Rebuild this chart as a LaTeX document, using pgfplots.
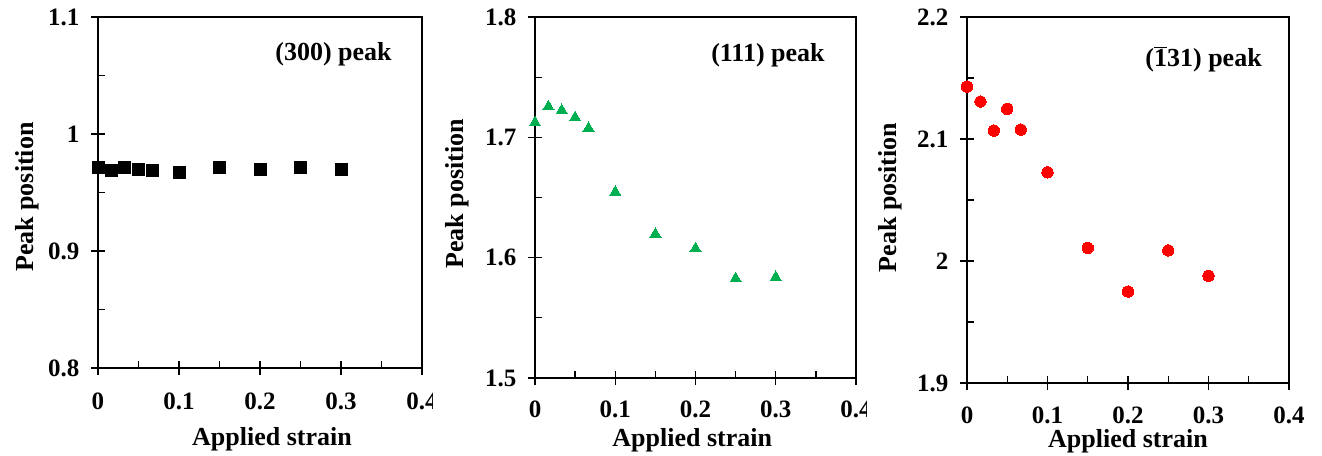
\documentclass[border=0pt]{standalone}
\usepackage{fontspec}
\setmainfont{Liberation Serif}
\usepackage{pgfplots}
\usepackage{pgfplotstable}
\pgfplotsset{compat=1.18}
\definecolor{exgreen}{RGB}{0,176,80}
\definecolor{exred}{RGB}{255,0,0}

\pgfplotstableread{
x y
0 0.9715
0.0167 0.9690
0.0333 0.9715
0.05 0.9700
0.0667 0.9686
0.1 0.9675
0.15 0.9715
0.2 0.9700
0.25 0.9715
0.3 0.9700
}\tabA
\pgfplotstableread{
x y
0 1.7122
0.0167 1.7255
0.0333 1.7224
0.05 1.7164
0.0667 1.7075
0.1 1.6544
0.15 1.6195
0.2 1.6075
0.25 1.5826
0.3 1.5837
}\tabB
\pgfplotstableread{
x y
0 2.1430
0.0167 2.1307
0.0333 2.1069
0.05 2.1247
0.0667 2.1077
0.1 2.0727
0.15 2.0108
0.2 1.9750
0.25 2.0087
0.3 1.9879
}\tabC

\tikzset{annot/.style={font=\fontsize{26}{31}\selectfont\bfseries, anchor=base east, inner sep=0pt}}
\pgfplotsset{
 panel/.style={
  scale only axis,
  axis line style={line width=1.5pt},
  xmin=0, xmax=0.4,
  xtick={0,0.1,0.2,0.3,0.4}, xticklabels={0,0.1,0.2,0.3,0.4},
  minor xtick={0.05,0.15,0.25,0.35},
  tick pos=left, tick align=center,
  major tick length=14pt, minor tick length=7pt,
  every tick/.style={black, line width=1.3pt},
  minor x tick style={yshift=3.5pt},
  minor y tick style={xshift=3.5pt},
  ticklabel style={font=\fontsize{25}{30}\selectfont\bfseries},
  yticklabel style={xshift=-8pt},
  label style={font=\fontsize{26}{31}\selectfont\bfseries},
  xlabel={Applied strain}, ylabel={Peak position},
  clip=false,
 },
}

\begin{document}
\begin{tikzpicture}
\useasboundingbox (0,0) rectangle (1322pt,455pt);

\begin{axis}[panel, at={(98pt,87pt)}, anchor=south west, width=324pt, height=351pt,
  ymin=0.8, ymax=1.1, ytick={0.8,0.9,1.0,1.1}, yticklabels={0.8,0.9,1,1.1},
  minor ytick={0.85,0.95,1.05},
  xticklabel style={yshift=-14pt},
  xlabel style={at={(axis description cs:0.537,-0.222)}, anchor=base},
  ylabel style={at={(axis description cs:-0.2006,0.487)}, anchor=base},
]
\addplot[only marks, color=black, mark=square*, mark size=6pt, mark options={fill=black, draw=black, line width=0pt}] table[x=x,y=y] {\tabA};
\node[annot] at (rel axis cs:0.907,0.875) {(300) peak};
\end{axis}

\begin{axis}[panel, at={(535pt,77pt)}, anchor=south west, width=321pt, height=361pt,
  ymin=1.5, ymax=1.8, ytick={1.5,1.6,1.7,1.8}, yticklabels={1.5,1.6,1.7,1.8},
  minor ytick={1.55,1.65,1.75},
  xticklabel style={yshift=-12pt},
  xlabel style={at={(axis description cs:0.49,-0.191)}, anchor=base},
  ylabel style={at={(axis description cs:-0.224,0.51)}, anchor=base},
]
\addplot[only marks, color=exgreen, mark=triangle*, mark size=6.5pt, mark options={fill=exgreen, draw=exgreen, line width=0pt}] table[x=x,y=y] {\tabB};
\node[annot] at (rel axis cs:0.903,0.878) {(111) peak};
\end{axis}

\begin{axis}[panel, at={(967pt,72pt)}, anchor=south west, width=322pt, height=366pt,
  ymin=1.9, ymax=2.2, ytick={1.9,2.0,2.1,2.2}, yticklabels={1.9,2,2.1,2.2},
  minor ytick={1.95,2.05,2.15},
  xticklabel style={yshift=-13pt},
  xlabel style={at={(axis description cs:0.5,-0.175)}, anchor=base},
  ylabel style={at={(axis description cs:-0.2205,0.507)}, anchor=base},
]
\addplot[only marks, color=exred, mark=*, mark size=5.7pt, mark options={fill=exred, draw=exred, line width=0pt}] table[x=x,y=y] {\tabC};
\node[annot] at (rel axis cs:0.916,0.866) {(\ensuremath{\overline{\mbox{1}}}31) peak};
\end{axis}

\fill[white] (433pt,20pt) rectangle (446pt,72pt);
\fill[white] (867pt,20pt) rectangle (879pt,72pt);
\end{tikzpicture}
\end{document}
